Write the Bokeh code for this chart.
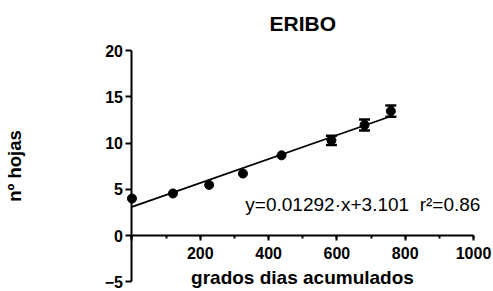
from bokeh.plotting import figure
from bokeh.models import (ColumnDataSource, Whisker, TeeHead, Label, Range1d,
                          SingleIntervalTicker)
from bokeh.embed import file_html
from bokeh.resources import INLINE

# ---- data ----
gdd = [0, 120, 226, 325, 438, 584, 681, 758]          # grados dias acumulados
hojas = [4.0, 4.55, 5.47, 6.7, 8.67, 10.3, 11.95, 13.45]  # nº hojas (mean)
err = [0, 0, 0, 0, 0, 0.5, 0.6, 0.6]                    # error (SEM)
slope = 0.01292
intercept = 3.101
r2 = 0.86
title_text = "ERIBO"
x_label = "grados dias acumulados"
y_label = "nº hojas"

FONT = "Liberation Sans"

# the frame fills the whole canvas; axes are fixed at x=0 / y=0
p = figure(width=493, height=291, output_backend="svg", toolbar_location=None,
           x_range=Range1d(-385, 1058.6), y_range=Range1d(-6.05, 25.41),
           min_border=0)
p.outline_line_color = None
p.grid.grid_line_color = None
p.background_fill_color = "white"
p.border_fill_color = "white"

# axes
xa = p.xaxis[0]
xa.fixed_location = 0
xa.bounds = (0, 1000)
xa.ticker = SingleIntervalTicker(interval=200, num_minor_ticks=2)
xa.major_label_overrides = {0: ""}
xa.axis_label = x_label
xa.axis_label_standoff = 5
ya = p.yaxis[0]
ya.fixed_location = 0
ya.bounds = (-5, 20)
ya.ticker = SingleIntervalTicker(interval=5, num_minor_ticks=0)
ya.axis_label = y_label
ya.axis_label_standoff = 76

for ax in (xa, ya):
    ax.axis_line_width = 2
    ax.axis_line_color = "black"
    ax.major_tick_line_width = 2
    ax.major_tick_line_color = "black"
    ax.minor_tick_line_width = 2
    ax.minor_tick_line_color = "black"
    ax.major_tick_in = 0
    ax.minor_tick_in = 0
    ax.major_label_text_font = FONT
    ax.major_label_text_font_style = "bold"
    ax.major_label_text_font_size = "16px"
    ax.major_label_text_color = "black"
    ax.axis_label_text_font = FONT
    ax.axis_label_text_font_style = "bold"
    ax.axis_label_text_color = "black"
xa.major_tick_out = 5
xa.minor_tick_out = 3
xa.major_label_standoff = 6
xa.axis_label_text_font_size = "19px"
ya.major_tick_out = 6
ya.minor_tick_line_color = None
ya.major_label_standoff = 3
ya.axis_label_text_font_size = "18.5px"

# regression line
fit_x = [0, max(gdd)]
fit_y = [intercept + slope * v for v in fit_x]
p.line(fit_x, fit_y, line_color="black", line_width=1.8)

# error bars (only where there is an error)
ex = [g for g, e in zip(gdd, err) if e > 0]
ey = [h for h, e in zip(hojas, err) if e > 0]
ee = [e for e in err if e > 0]
esrc = ColumnDataSource(dict(x=ex, lower=[a - b for a, b in zip(ey, ee)],
                             upper=[a + b for a, b in zip(ey, ee)]))
w = Whisker(source=esrc, base="x", lower="lower", upper="upper",
            line_color="black", line_width=3.5,
            upper_head=TeeHead(size=11, line_width=2.5, line_color="black"),
            lower_head=TeeHead(size=11, line_width=2.5, line_color="black"))
p.add_layout(w)

# points
p.scatter(gdd, hojas, size=9, marker="circle", fill_color="black", line_color="black")

# title and equation
p.add_layout(Label(x=500, y=22.9, text=title_text, text_align="center",
                   text_baseline="alphabetic", text_font=FONT,
                   text_font_style="bold", text_font_size="21px", text_color="black"))
p.add_layout(Label(x=332, y=3.35,
                   text=f"y={slope}·x+{intercept}\u00a0\u00a0r²={r2}",
                   text_align="left", text_baseline="alphabetic", text_font=FONT,
                   text_font_size="19px", text_color="black"))

open("out.html", "w").write(file_html(p, INLINE))
